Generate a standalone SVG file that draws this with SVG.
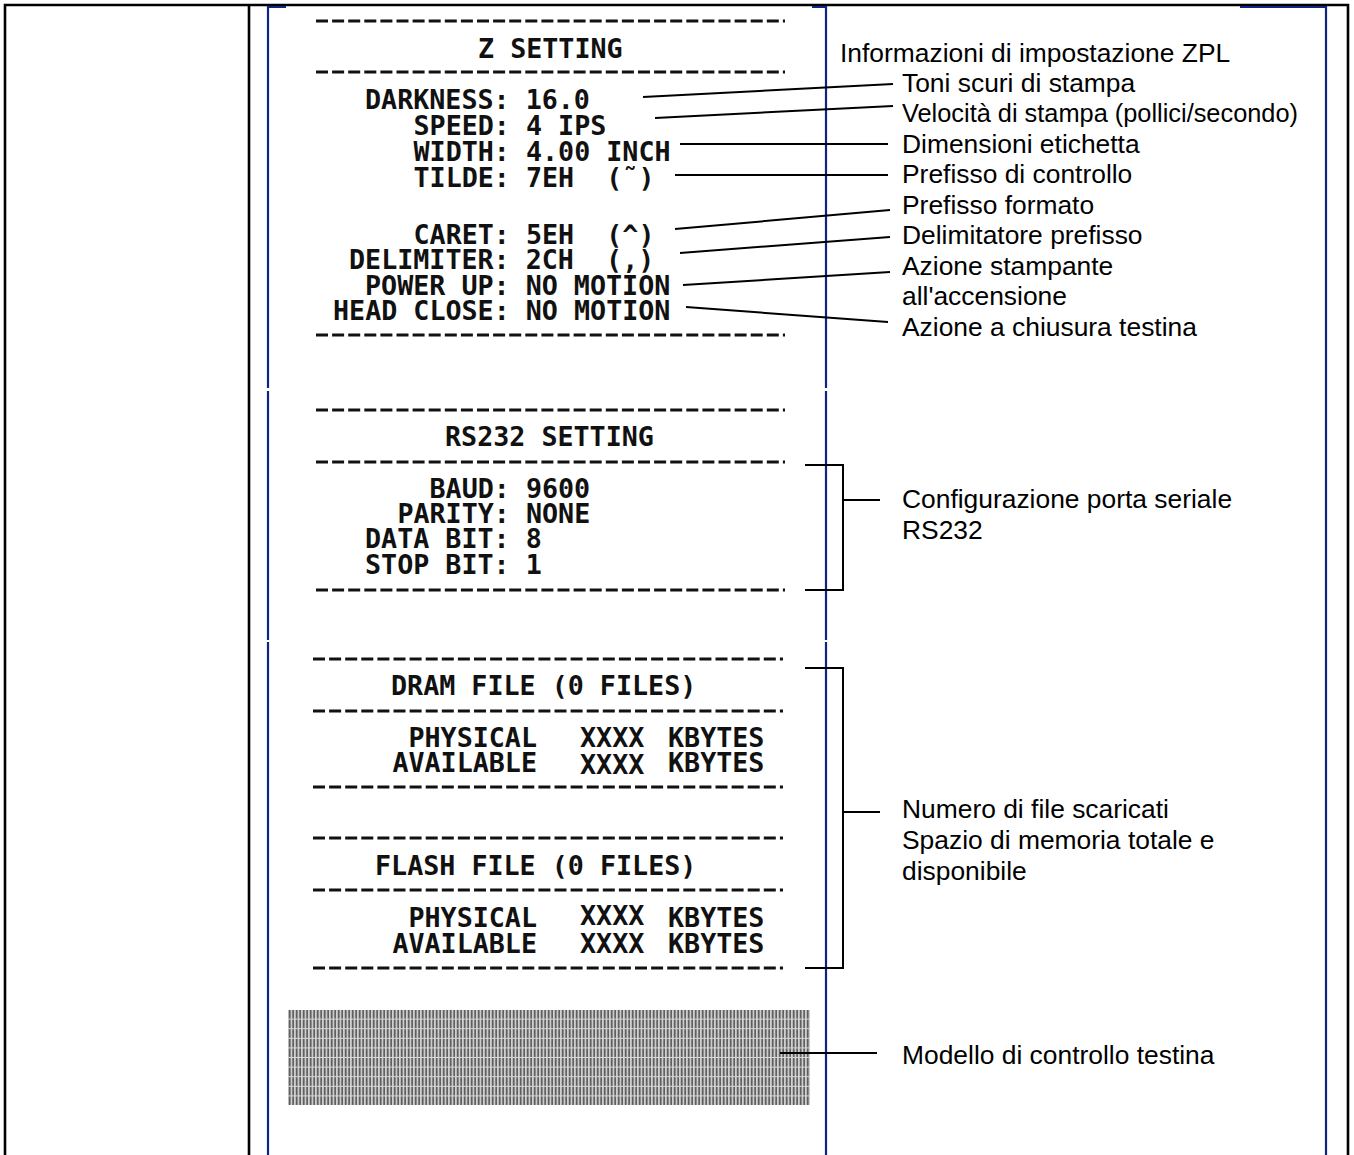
<svg xmlns="http://www.w3.org/2000/svg" width="1354" height="1155" viewBox="0 0 1354 1155">
<style>
.rc{font-family:"DejaVu Sans Mono","Liberation Mono",monospace;font-weight:bold;font-size:26.7px;fill:#111;}
.lb{font-family:"Liberation Sans",Arial,sans-serif;font-size:26.4px;fill:#000;}
.dash{stroke:#111;stroke-width:3;stroke-dasharray:12 4.1;fill:none;}
.ld{stroke:#000;stroke-width:2;fill:none;}
.bk{stroke:#000;stroke-width:2.6;fill:none;}
.bl{stroke:#0d2485;stroke-width:2.2;fill:none;}
</style>
<defs>
<pattern id="hatch" x="288" y="1010" width="3.5" height="9.6" patternUnits="userSpaceOnUse">
<rect x="0" y="0" width="3.5" height="9.6" fill="#d8d8d8"/>
<rect x="0.7" y="0" width="1.9" height="8.6" fill="#5e5e5e"/>
</pattern>
</defs>
<rect width="1354" height="1155" fill="#fff"/>
<g id="frame">
<path class="bk" d="M5,1160 V5 H1348 V1160"/>
<path class="bk" d="M249,5 V1160"/>
<path class="bl" d="M286,7 H268 V388 M268,391 V640 M268,642 V1160"/>
<path class="bl" d="M812,7 H826 V388 M826,391 V640 M826,642 V1160"/>
<path class="bl" d="M1240,7 H1326 V1160"/>
</g>
<g id="z-setting">
<line class="dash" x1="316" y1="21" x2="785" y2="21"/>
<text class="rc" x="478" y="58">Z SETTING</text>
<line class="dash" x1="316" y1="72" x2="785" y2="72"/>
<text class="rc" x="365" y="109" xml:space="preserve">DARKNESS: 16.0</text>
<text class="rc" x="413.5" y="135" xml:space="preserve">SPEED: 4 IPS</text>
<text class="rc" x="413.5" y="161" xml:space="preserve">WIDTH: 4.00 INCH</text>
<text class="rc" x="413.5" y="187" xml:space="preserve">TILDE: 7EH  (˜)</text>
<text class="rc" x="413.5" y="244" xml:space="preserve">CARET: 5EH  (^)</text>
<text class="rc" x="349" y="269" xml:space="preserve">DELIMITER: 2CH  (,)</text>
<text class="rc" x="365" y="295" xml:space="preserve">POWER UP: NO MOTION</text>
<text class="rc" x="333" y="320" xml:space="preserve">HEAD CLOSE: NO MOTION</text>
<line class="dash" x1="316" y1="335" x2="785" y2="335"/>
</g>
<g id="rs232-setting">
<line class="dash" x1="316" y1="410" x2="785" y2="410"/>
<text class="rc" x="445" y="446">RS232 SETTING</text>
<line class="dash" x1="316" y1="462" x2="785" y2="462"/>
<text class="rc" x="429.5" y="498" xml:space="preserve">BAUD: 9600</text>
<text class="rc" x="397.4" y="523" xml:space="preserve">PARITY: NONE</text>
<text class="rc" x="365" y="548" xml:space="preserve">DATA BIT: 8</text>
<text class="rc" x="365" y="574" xml:space="preserve">STOP BIT: 1</text>
<line class="dash" x1="316" y1="590" x2="785" y2="590"/>
</g>
<g id="dram-file">
<line class="dash" x1="313" y1="659" x2="783" y2="659"/>
<text class="rc" x="391" y="695">DRAM FILE (0 FILES)</text>
<line class="dash" x1="313" y1="711" x2="783" y2="711"/>
<text class="rc" x="537" y="747" text-anchor="end">PHYSICAL</text>
<text class="rc" x="580" y="747">XXXX</text>
<text class="rc" x="668" y="747">KBYTES</text>
<text class="rc" x="537" y="772" text-anchor="end">AVAILABLE</text>
<text class="rc" x="580" y="774">XXXX</text>
<text class="rc" x="668" y="772">KBYTES</text>
<line class="dash" x1="313" y1="787" x2="783" y2="787"/>
</g>
<g id="flash-file">
<line class="dash" x1="313" y1="838" x2="783" y2="838"/>
<text class="rc" x="375" y="875">FLASH FILE (0 FILES)</text>
<line class="dash" x1="313" y1="890" x2="783" y2="890"/>
<text class="rc" x="537" y="927" text-anchor="end">PHYSICAL</text>
<text class="rc" x="580" y="925">XXXX</text>
<text class="rc" x="668" y="927">KBYTES</text>
<text class="rc" x="537" y="953" text-anchor="end">AVAILABLE</text>
<text class="rc" x="580" y="953">XXXX</text>
<text class="rc" x="668" y="953">KBYTES</text>
<line class="dash" x1="313" y1="968" x2="783" y2="968"/>
</g>
<g id="head-pattern">
<rect x="288" y="1010" width="522" height="95" fill="url(#hatch)"/>
</g>
<g id="labels">
<text class="lb" x="840" y="62">Informazioni di impostazione ZPL</text>
<text class="lb" x="902" y="92">Toni scuri di stampa</text>
<text class="lb" x="902" y="122" textLength="396" lengthAdjust="spacingAndGlyphs">Velocità di stampa (pollici/secondo)</text>
<text class="lb" x="902" y="153">Dimensioni etichetta</text>
<text class="lb" x="902" y="183">Prefisso di controllo</text>
<text class="lb" x="902" y="214">Prefisso formato</text>
<text class="lb" x="902" y="244">Delimitatore prefisso</text>
<text class="lb" x="902" y="275">Azione stampante</text>
<text class="lb" x="902" y="305">all'accensione</text>
<text class="lb" x="902" y="336">Azione a chiusura testina</text>
<text class="lb" x="902" y="508">Configurazione porta seriale</text>
<text class="lb" x="902" y="539">RS232</text>
<text class="lb" x="902" y="818">Numero di file scaricati</text>
<text class="lb" x="902" y="849">Spazio di memoria totale e</text>
<text class="lb" x="902" y="880">disponibile</text>
<text class="lb" x="902" y="1064">Modello di controllo testina</text>
</g>
<g id="connectors">
<line class="ld" x1="643" y1="97" x2="893" y2="84"/>
<line class="ld" x1="655" y1="118" x2="893" y2="106"/>
<line class="ld" x1="680" y1="144" x2="888" y2="144"/>
<line class="ld" x1="675" y1="175" x2="888" y2="175"/>
<line class="ld" x1="675" y1="229" x2="890" y2="210"/>
<line class="ld" x1="680" y1="253" x2="890" y2="237"/>
<line class="ld" x1="683" y1="285" x2="890" y2="272"/>
<line class="ld" x1="686" y1="307" x2="888" y2="322"/>
<path class="ld" d="M805,465 H843 V590 H805 M843,500 H880"/>
<path class="ld" d="M805,668 H843 V968 H805 M843,812 H880"/>
<line class="ld" x1="780" y1="1053" x2="877" y2="1053"/>
</g>
</svg>
